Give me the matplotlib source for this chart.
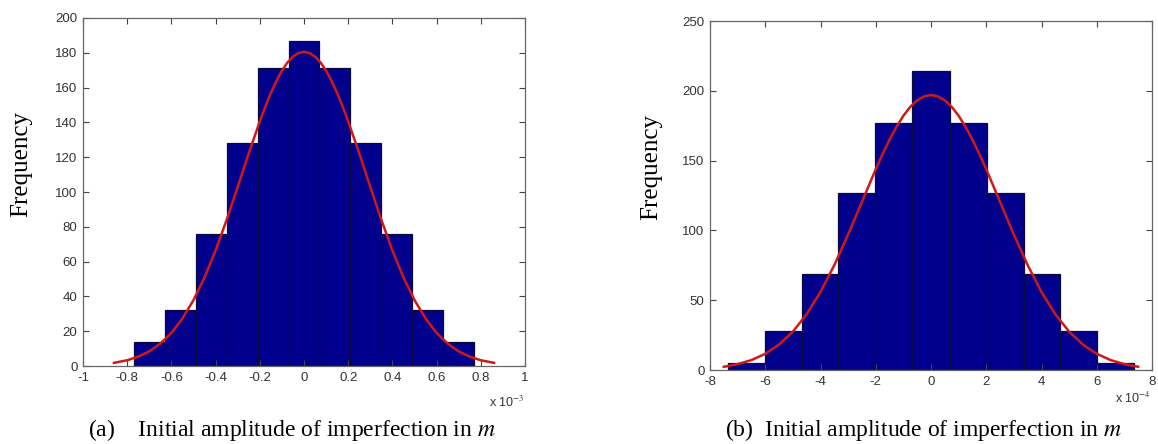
import numpy as np
import matplotlib.pyplot as plt

plt.rcParams['mathtext.fontset'] = 'stix'
plt.rcParams['axes.unicode_minus'] = False

# panel (a): bin edges (x 1e-3 m) and counts
edges_a = [-0.77, -0.63, -0.49, -0.35, -0.21, -0.07, 0.07, 0.21, 0.35, 0.49, 0.63, 0.77]
counts_a = [14, 32, 76, 128, 171, 187, 171, 128, 76, 32, 14]
# fitted normal curve
fit_x_a = [-0.86, -0.8, -0.75, -0.7, -0.65, -0.6, -0.55, -0.5, -0.45, -0.4, -0.35, -0.3, -0.25,
           -0.2, -0.175, -0.15, -0.125, -0.1, -0.075, -0.05, -0.025, 0.0, 0.025, 0.05, 0.075, 0.1,
           0.125, 0.15, 0.175, 0.2, 0.25, 0.3, 0.35, 0.4, 0.45,
           0.5, 0.55, 0.6, 0.65, 0.7, 0.75, 0.8, 0.86]
fit_y_a = [1.8, 3.3, 5.4, 8.4, 12.9, 19.0, 27.3, 37.9, 50.9, 66.4, 84.0, 102.9, 122.2,
           140.6, 149.1, 156.9, 163.8, 169.7, 174.4, 177.8, 179.9, 180.6, 179.9, 177.8, 174.4, 169.7,
           163.8, 156.9, 149.1, 140.6, 122.2, 102.9, 84.0, 66.4, 50.9,
           37.9, 27.3, 19.0, 12.9, 8.4, 5.4, 3.3, 1.8]

# panel (b): bin edges (x 1e-4 m) and counts
edges_b = [-7.36, -6.02, -4.68, -3.35, -2.01, -0.67, 0.67, 2.01, 3.35, 4.68, 6.02, 7.36]
counts_b = [5, 28, 69, 127, 177, 214, 177, 127, 69, 28, 5]
fit_x_b = [-7.5, -7.0, -6.5, -6.0, -5.5, -5.0, -4.5, -4.0, -3.5, -3.0, -2.5, -2.0, -1.75, -1.5,
           -1.25, -1.0, -0.75, -0.5, -0.25, 0.0, 0.25, 0.5, 0.75, 1.0, 1.25, 1.5, 1.75, 2.0,
           2.5, 3.0, 3.5, 4.0, 4.5, 5.0, 5.5, 6.0, 6.5, 7.0, 7.5]
fit_y_b = [2.3, 4.2, 7.1, 11.6, 18.2, 27.5, 40.0, 55.9, 75.1, 97.0, 120.4, 143.8, 154.8, 165.0,
           174.2, 182.1, 188.5, 193.2, 196.0, 197.0, 196.0, 193.2, 188.5, 182.1, 174.2, 165.0, 154.8, 143.8,
           120.4, 97.0, 75.1, 55.9, 40.0, 27.5, 18.2, 11.6, 7.1, 4.2, 2.3]

xticks_a = [-1, -0.8, -0.6, -0.4, -0.2, 0, 0.2, 0.4, 0.6, 0.8, 1]
xticklabels_a = ['-1', '-0.8', '-0.6', '-0.4', '-0.2', '0', '0.2', '0.4', '0.6', '0.8', '1']
yticks_a = [0, 20, 40, 60, 80, 100, 120, 140, 160, 180, 200]
xticks_b = [-8, -6, -4, -2, 0, 2, 4, 6, 8]
yticks_b = [0, 50, 100, 150, 200, 250]

bar_col = '#00008c'
tick_font = dict(family=['Liberation Sans', 'DejaVu Sans'], size=9.5)
serif = ['Liberation Serif', 'DejaVu Serif']

fig = plt.figure(figsize=(11.58, 4.44), dpi=100)
ax1 = fig.add_axes([83/1158, 1-366/444, 442/1158, 348/444])
ax2 = fig.add_axes([710/1158, 1-370/444, 442/1158, 349/444])


def draw(ax, edges, counts, fx, fy, xlim, ylim, xticks, yticks, xlabels=None):
    edges = np.array(edges)
    ax.bar(edges[:-1], counts, width=np.diff(edges), align='edge',
           color=bar_col, edgecolor='#0a0a3a', linewidth=0.9)
    ax.plot(fx, fy, color='#d01818', lw=1.8)
    ax.set_xlim(*xlim)
    ax.set_ylim(*ylim)
    ax.set_xticks(xticks)
    if xlabels is not None:
        ax.set_xticklabels(xlabels)
    ax.set_yticks(yticks)
    ax.tick_params(direction='in', top=True, right=True, length=4, width=0.8,
                   colors='#444444', labelcolor='#333333', pad=4)
    for lab in ax.get_xticklabels() + ax.get_yticklabels():
        lab.set_fontfamily(tick_font['family'])
        lab.set_fontsize(tick_font['size'])
    for sp in ax.spines.values():
        sp.set_color('#666666')
        sp.set_linewidth(0.9)


draw(ax1, edges_a, counts_a, fit_x_a, fit_y_a, (-1, 1), (0, 200), xticks_a, yticks_a, xticklabels_a)
draw(ax2, edges_b, counts_b, fit_x_b, fit_y_b, (-8, 8), (0, 250), xticks_b, yticks_b)

# axis labels and scale factors
fig.text(21/1158, 1-164/444, 'Frequency', rotation=90, ha='center', va='center',
         family=serif, fontsize=18)
fig.text(651/1158, 1-167/444, 'Frequency', rotation=90, ha='center', va='center',
         family=serif, fontsize=18)
fig.text(507/1158, 1-402/444, r'x 10$^{-3}$', ha='center', va='center',
         family=tick_font['family'], fontsize=9, color='#333333')
fig.text(1133/1158, 1-398/444, r'x 10$^{-4}$', ha='center', va='center',
         family=tick_font['family'], fontsize=9, color='#333333')

# captions
fig.text(88/1158, 1-430/444, r'(a)    Initial amplitude of imperfection in $m$', ha='left', va='center',
         family=serif, fontsize=17)
fig.text(725/1158, 1-430/444, r'(b)  Initial amplitude of imperfection in $m$', ha='left', va='center',
         family=serif, fontsize=17)

fig.savefig('out.png', dpi=100)
